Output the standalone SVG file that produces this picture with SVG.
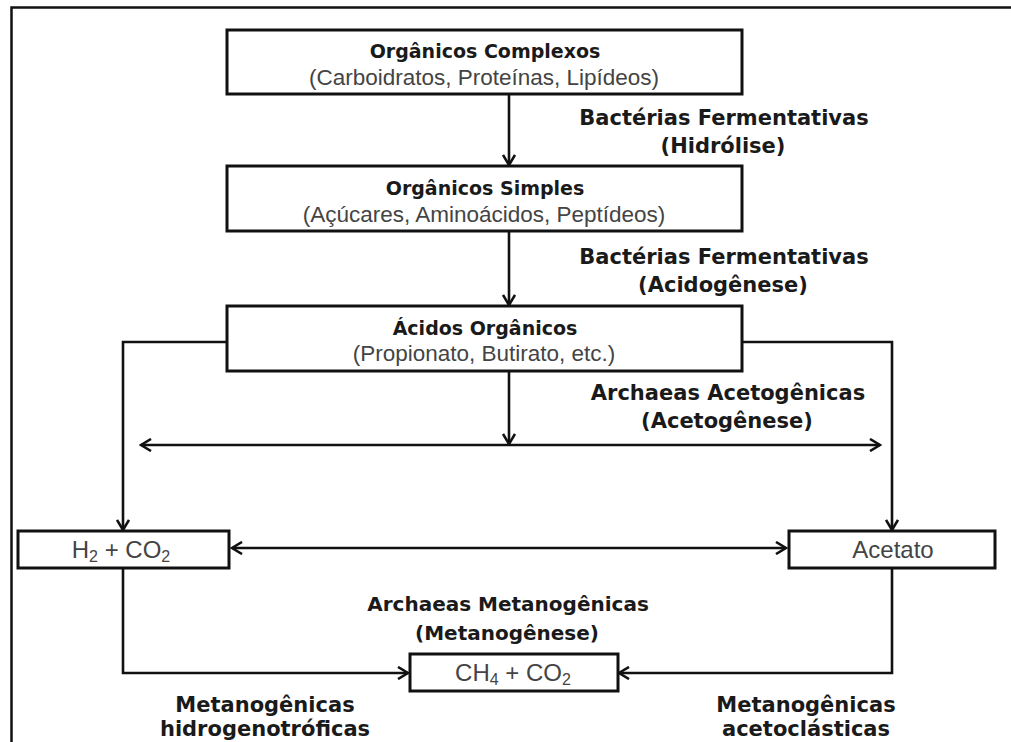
<svg xmlns="http://www.w3.org/2000/svg" width="1011" height="742" viewBox="0 0 1011 742">
<style>
.box{fill:#fff;stroke:#111;stroke-width:3}
.ln{fill:none;stroke:#111;stroke-width:2.6}
.t{font-family:"DejaVu Sans",Verdana,sans-serif;font-weight:bold;font-size:21px;fill:#1a1a1a;text-anchor:middle}
.bt{font-size:19px}
.m{font-size:20px}
.r{font-family:"Liberation Sans",Arial,sans-serif;font-size:22.5px;fill:#444;text-anchor:middle}
.s{font-size:24px}
.sub{font-size:16px}
</style>
<defs>
<marker id="ah" viewBox="0 0 14 14" refX="12" refY="7" markerWidth="14" markerHeight="14" markerUnits="userSpaceOnUse" orient="auto-start-reverse">
<path d="M2,1 L12,7 L2,13" fill="none" stroke="#111" stroke-width="2.6"/>
</marker>
</defs>
<rect width="1011" height="742" fill="#fff"/>
<path d="M11.5,742 V7.5 H1011" fill="none" stroke="#111" stroke-width="2.5"/>

<g id="connectors">
<line class="ln" x1="509" y1="95" x2="509" y2="165" marker-end="url(#ah)"/>
<line class="ln" x1="509" y1="232" x2="509" y2="305" marker-end="url(#ah)"/>
<line class="ln" x1="509" y1="372" x2="509" y2="444" marker-end="url(#ah)"/>
<line class="ln" x1="141" y1="445" x2="880" y2="445" marker-start="url(#ah)" marker-end="url(#ah)"/>
<polyline class="ln" points="227,342 123,342 123,530" marker-end="url(#ah)"/>
<polyline class="ln" points="742,342 892,342 892,530" marker-end="url(#ah)"/>
<line class="ln" x1="232" y1="548" x2="786" y2="548" marker-start="url(#ah)" marker-end="url(#ah)"/>
<polyline class="ln" points="123,568 123,673 408,673" marker-end="url(#ah)"/>
<polyline class="ln" points="892,568 892,673 619,673" marker-end="url(#ah)"/>
</g>

<g id="n-complexos">
<rect class="box" x="227" y="30" width="515" height="64"/>
<text class="t bt" x="485" y="58">Orgânicos Complexos</text>
<text class="r" x="484" y="85">(Carboidratos, Proteínas, Lipídeos)</text>
</g>
<g id="l-hidrolise">
<text class="t" x="724" y="125">Bactérias Fermentativas</text>
<text class="t" x="723" y="153">(Hidrólise)</text>
</g>
<g id="n-simples">
<rect class="box" x="227" y="166" width="515" height="65"/>
<text class="t bt" x="485" y="195">Orgânicos Simples</text>
<text class="r" x="484" y="222">(Açúcares, Aminoácidos, Peptídeos)</text>
</g>
<g id="l-acidogenese">
<text class="t" x="724" y="264">Bactérias Fermentativas</text>
<text class="t" x="723" y="292">(Acidogênese)</text>
</g>
<g id="n-acidos">
<rect class="box" x="227" y="306" width="515" height="65"/>
<text class="t bt" x="485" y="335">Ácidos Orgânicos</text>
<text class="r" x="484" y="361">(Propionato, Butirato, etc.)</text>
</g>
<g id="l-acetogenese">
<text class="t" x="728" y="400">Archaeas Acetogênicas</text>
<text class="t" x="727" y="428">(Acetogênese)</text>
</g>
<g id="n-h2">
<rect class="box" x="18" y="531" width="211" height="37"/>
<text class="r s" x="121" y="558">H<tspan class="sub" dy="4">2</tspan><tspan dy="-4"> + CO</tspan><tspan class="sub" dy="4">2</tspan></text>
</g>
<g id="n-acetato">
<rect class="box" x="789" y="531" width="206" height="37"/>
<text class="r s" x="893" y="558">Acetato</text>
</g>
<g id="l-metanogenese">
<text class="t m" x="508" y="611">Archaeas Metanogênicas</text>
<text class="t m" x="507" y="640">(Metanogênese)</text>
</g>
<g id="n-ch4">
<rect class="box" x="410" y="654" width="208" height="37"/>
<text class="r s" x="513" y="681">CH<tspan class="sub" dy="4">4</tspan><tspan dy="-4"> + CO</tspan><tspan class="sub" dy="4">2</tspan></text>
</g>
<g id="l-hidrogeno">
<text class="t" x="265" y="712">Metanogênicas</text>
<text class="t" x="265" y="736">hidrogenotróficas</text>
</g>
<g id="l-acetoclasticas">
<text class="t" x="806" y="712">Metanogênicas</text>
<text class="t" x="806" y="736">acetoclásticas</text>
</g>
</svg>
